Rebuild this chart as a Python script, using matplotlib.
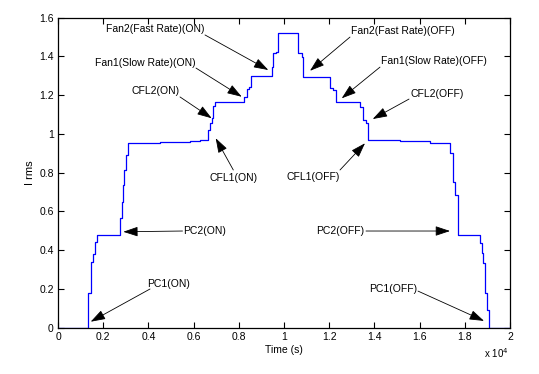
import matplotlib
matplotlib.use("Agg")
import matplotlib.pyplot as plt
from matplotlib.ticker import ScalarFormatter, MultipleLocator

plt.rcParams['font.family'] = ['Liberation Sans', 'DejaVu Sans']

# Step breakpoints (time in s, Irms value from that time onward)
time_s = [0, 1327, 1460, 1562, 1659, 1712, 2743, 2845, 2889, 2934, 3009, 3084,
          4513, 5841, 6283, 6650, 6726, 6801, 6872, 6947, 8243, 8350, 8451, 8540,
          9456, 9527, 9633, 9721, 10633, 10783, 10854, 12035, 12181, 12301,
          13363, 13482, 13628, 13704, 15133, 16460, 17345, 17491, 17566, 17686,
          18673, 18748, 18819, 18894, 18969, 19058, 20000]
irms = [0.0, 0.18, 0.34, 0.38, 0.44, 0.478, 0.565, 0.65, 0.737, 0.814, 0.891, 0.955,
        0.958, 0.962, 0.967, 1.02, 1.055, 1.08, 1.144, 1.166, 1.192, 1.23, 1.244, 1.299,
        1.347, 1.416, 1.425, 1.522, 1.416, 1.399, 1.295, 1.236, 1.227, 1.166,
        1.141, 1.072, 1.055, 0.969, 0.962, 0.955, 0.90, 0.754, 0.685, 0.478,
        0.435, 0.384, 0.332, 0.177, 0.091, 0.0, 0.0]

labels = ["Fan2(Fast Rate)(ON)", "Fan1(Slow Rate)(ON)", "CFL2(ON)", "CFL1(ON)",
          "PC2(ON)", "PC1(ON)", "Fan2(Fast Rate)(OFF)", "Fan1(Slow Rate)(OFF)",
          "CFL2(OFF)", "CFL1(OFF)", "PC2(OFF)", "PC1(OFF)"]
label_xy = [(4292, 1.542), (3850, 1.365), (4314, 1.223), (7788, 0.774),
            (6475, 0.499), (4912, 0.2255), (15265, 1.531), (16624, 1.376),
            (16757, 1.205), (11283, 0.779), (12500, 0.499), (14845, 0.198)]
arrow_start = [(6504, 1.511), (6106, 1.340), (5398, 1.191), (7757, 0.814),
               (5509, 0.499), (4071, 0.1997), (12920, 1.500), (14248, 1.345),
               (15531, 1.180), (12478, 0.814), (13628, 0.499), (15929, 0.189)]
arrow_tip = [(9305, 1.330), (8128, 1.192), (6801, 1.081), (6978, 0.978),
             (2889, 0.495), (1447, 0.031), (11150, 1.326), (12553, 1.184),
             (13925, 1.077), (13584, 0.952), (17345, 0.499), (18850, 0.035)]

fig = plt.figure(figsize=(5.39, 3.74), dpi=100)
ax = fig.add_axes([58/539, 1 - 327.7/374, (510 - 58)/539, (327.7 - 17.7)/374])

ax.plot(time_s, irms, drawstyle='steps-post', color='#0000ff', lw=0.9)

ax.set_xlim(0, 20000)
ax.set_ylim(0, 1.6)

ax.set_xticks([i * 2000 for i in range(11)])
ax.set_xticklabels(['0', '0.2', '0.4', '0.6', '0.8', '1', '1.2', '1.4', '1.6', '1.8', '2'])
ax.set_yticks([0, 0.2, 0.4, 0.6, 0.8, 1, 1.2, 1.4, 1.6])
ax.set_yticklabels(['0', '0.2', '0.4', '0.6', '0.8', '1', '1.2', '1.4', '1.6'])

ax.tick_params(direction='in', top=True, right=True, length=4, width=0.8,
               labelsize=7.5, pad=3)
for s in ax.spines.values():
    s.set_linewidth(0.9)

ax.set_xlabel('Time (s)', fontsize=7.5, labelpad=2)
ax.set_ylabel('I rms', fontsize=8, labelpad=3)
fig.text(496/539, 1 - 353/374, r'x 10$^{4}$', fontsize=7, ha='center', va='center')

for lab, (tx, ty), (sx, sy), (px, py) in zip(labels, label_xy, arrow_start, arrow_tip):
    ax.text(tx, ty, lab, fontsize=7.5, ha='center', va='center')
    ax.annotate('', xy=(px, py), xytext=(sx, sy),
                arrowprops=dict(arrowstyle='-|>,head_length=0.9,head_width=0.3',
                                color='black', lw=0.6, shrinkA=0, shrinkB=0,
                                mutation_scale=10))

fig.savefig('out.png', dpi=100)
